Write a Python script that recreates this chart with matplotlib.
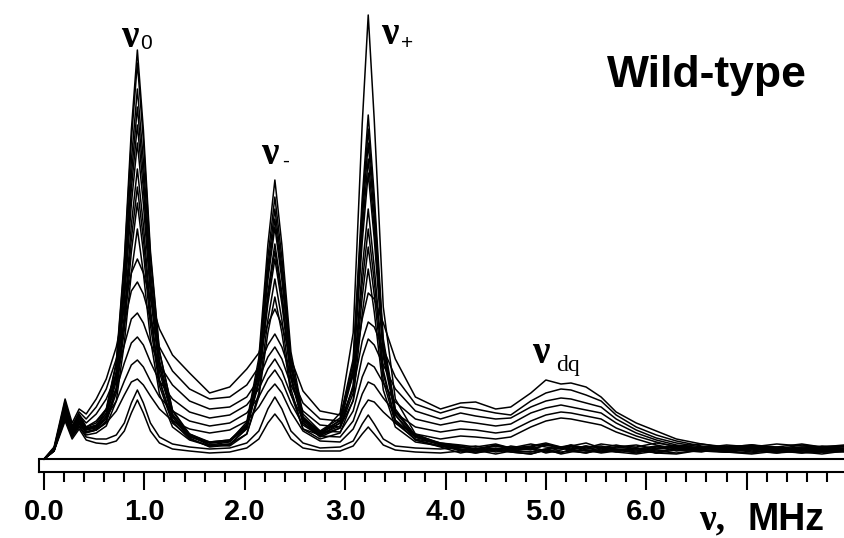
import numpy as np
import matplotlib
matplotlib.use("Agg")
import matplotlib.pyplot as plt

freq = [0.00, 0.10, 0.21, 0.28, 0.35, 0.42, 0.52, 0.62, 0.72, 0.80,
        0.87, 0.93, 0.99, 1.06, 1.15, 1.28, 1.45, 1.65, 1.85, 2.02,
        2.14, 2.23, 2.30, 2.37, 2.46, 2.58, 2.75, 2.95, 3.08, 3.17,
        3.23, 3.29, 3.38, 3.50, 3.70, 3.95,
        4.15, 4.30, 4.50, 4.65, 4.85, 5.00, 5.15, 5.25, 5.40, 5.55,
        5.70, 5.90, 6.10, 6.30, 6.55, 6.80, 7.05, 7.30, 7.55, 7.75, 7.97]

# narrow-line spectra (strong v0, v-, v+), low background
sharp_1 = [0, 10, 58, 30, 45, 32, 36, 50, 97, 200, 329, 409, 329, 208, 108, 48, 24, 14, 13, 25,
           66, 139, 180, 139, 70, 30, 24, 46, 126, 335, 444, 339, 152, 60, 25, 15,
           9, 6, 10, 7, 5, 9, 12, 8, 6, 10, 7, 11, 6, 9, 7, 12, 8, 6, 10, 7, 9]
sharp_2 = [0, 8, 50, 26, 40, 30, 33, 49, 95, 195, 319, 396, 319, 203, 107, 49, 25, 16, 18, 37,
           101, 214, 279, 214, 107, 45, 28, 41, 100, 261, 344, 264, 120, 50, 23, 15,
           12, 9, 8, 13, 10, 7, 11, 14, 9, 8, 12, 10, 13, 8, 11, 9, 14, 10, 8, 12, 10]
sharp_3 = [0, 10, 52, 29, 42, 30, 33, 46, 88, 182, 298, 370, 298, 190, 99, 45, 23, 14, 17, 34,
           95, 201, 262, 201, 100, 42, 25, 39, 96, 250, 330, 253, 115, 48, 22, 14,
           8, 11, 7, 9, 12, 8, 6, 10, 13, 7, 9, 6, 10, 12, 8, 7, 11, 9, 6, 10, 8]
sharp_4 = [0, 11, 46, 24, 36, 27, 30, 43, 83, 173, 283, 352, 283, 180, 93, 42, 21, 12, 14, 31,
           90, 192, 250, 192, 94, 39, 23, 36, 90, 239, 316, 242, 109, 44, 19, 12,
           6, 9, 5, 8, 7, 10, 5, 7, 9, 6, 8, 11, 6, 5, 9, 7, 6, 10, 7, 5, 8]
sharp_5 = [0, 9, 50, 31, 44, 31, 34, 45, 83, 167, 270, 334, 270, 173, 93, 44, 25, 17, 19, 35,
           90, 185, 240, 185, 94, 42, 27, 38, 90, 228, 300, 231, 107, 47, 24, 16,
           13, 10, 14, 11, 15, 12, 10, 13, 16, 11, 12, 14, 10, 13, 15, 11, 12, 10, 14, 12, 13]
sharp_6 = [0, 9, 54, 32, 43, 30, 32, 42, 78, 157, 255, 316, 255, 164, 87, 42, 23, 16, 18, 33,
           86, 179, 232, 179, 91, 40, 26, 36, 85, 217, 286, 220, 102, 44, 22, 15,
           11, 13, 9, 12, 10, 14, 11, 9, 12, 13, 10, 8, 12, 11, 9, 13, 10, 12, 9, 11, 12]
sharp_7 = [0, 10, 48, 27, 38, 27, 29, 38, 71, 144, 234, 290, 234, 150, 79, 37, 20, 13, 15, 30,
           79, 166, 215, 166, 83, 36, 22, 31, 74, 190, 250, 192, 89, 38, 19, 13,
           9, 7, 10, 8, 11, 6, 9, 12, 8, 7, 10, 9, 6, 11, 8, 10, 7, 9, 11, 8, 9]
sharp_8 = [0, 8, 45, 28, 37, 29, 31, 40, 70, 137, 220, 272, 220, 143, 78, 39, 23, 17, 19, 33,
           79, 161, 208, 161, 83, 38, 25, 33, 72, 176, 230, 178, 85, 39, 22, 16,
           14, 12, 15, 11, 13, 16, 12, 14, 11, 15, 13, 12, 16, 13, 11, 14, 12, 15, 13, 12, 14]
sharp_9 = [0, 8, 44, 25, 35, 27, 29, 37, 66, 129, 207, 256, 207, 134, 73, 36, 22, 16, 18, 31,
           76, 155, 200, 155, 80, 36, 24, 31, 66, 162, 212, 164, 78, 36, 20, 15,
           12, 10, 13, 11, 9, 14, 12, 10, 13, 11, 14, 10, 12, 13, 10, 12, 14, 11, 10, 13, 12]
sharp_10 = [0, 9, 42, 23, 33, 24, 26, 33, 58, 116, 186, 230, 186, 120, 65, 32, 19, 13, 15, 25,
            62, 126, 162, 126, 65, 30, 20, 26, 59, 145, 190, 147, 69, 32, 17, 13,
            10, 8, 11, 9, 7, 10, 12, 9, 8, 11, 9, 7, 10, 12, 8, 9, 11, 8, 10, 9, 10]

# broad-line spectra with raised background and the v_dq hump
broad_1 = [0, 12, 60, 36, 50, 45, 60, 80, 112, 150, 186, 200, 186, 160, 130, 104, 86, 66, 72, 90,
           106, 135, 150, 134, 100, 68, 48, 44, 84, 140, 166, 160, 136, 100, 62, 50,
           56, 57, 50, 52, 66, 79, 75, 76, 72, 62, 47, 36, 28, 20, 15, 12, 14, 12, 15, 12, 13]
broad_2 = [0, 11, 55, 33, 47, 40, 52, 70, 100, 136, 168, 177, 165, 140, 112, 88, 70, 60, 62, 74,
           92, 114, 125, 112, 84, 56, 40, 38, 70, 118, 137, 132, 110, 82, 55, 46,
           52, 50, 46, 44, 58, 66, 70, 69, 64, 58, 44, 32, 24, 18, 13, 11, 13, 10, 12, 11, 10]
broad_3 = [0, 10, 52, 30, 44, 36, 45, 60, 84, 114, 140, 146, 136, 116, 94, 74, 58, 50, 52, 62,
           80, 102, 112, 100, 74, 48, 34, 32, 58, 102, 120, 114, 94, 70, 48, 40,
           46, 43, 40, 41, 52, 58, 61, 60, 56, 52, 40, 29, 21, 16, 12, 10, 12, 9, 11, 10, 9]
broad_4 = [0, 9, 48, 28, 40, 32, 38, 50, 70, 96, 116, 122, 114, 97, 78, 60, 47, 41, 44, 54,
           70, 90, 100, 88, 64, 40, 28, 27, 48, 82, 96, 92, 76, 57, 40, 34,
           38, 36, 33, 35, 46, 51, 54, 52, 49, 46, 36, 26, 19, 14, 11, 9, 11, 8, 10, 9, 9]
broad_5 = [0, 10, 45, 26, 38, 29, 33, 42, 58, 78, 94, 99, 92, 78, 62, 48, 38, 33, 36, 46,
           62, 80, 89, 78, 56, 34, 23, 22, 38, 65, 77, 74, 61, 46, 32, 27,
           30, 29, 26, 28, 38, 44, 47, 46, 43, 40, 31, 23, 17, 12, 9, 8, 10, 7, 9, 8, 8]
broad_6 = [0, 8, 42, 24, 35, 26, 29, 36, 48, 64, 77, 80, 74, 63, 50, 38, 30, 26, 29, 38,
           52, 67, 75, 66, 47, 28, 18, 17, 30, 50, 59, 57, 47, 36, 25, 20,
           23, 22, 20, 22, 32, 38, 41, 40, 37, 34, 27, 20, 14, 10, 8, 7, 9, 6, 8, 7, 7]

# weak spectra
weak_1 = [0, 9, 40, 22, 32, 22, 20, 20, 24, 36, 56, 69, 56, 36, 22, 15, 12, 10, 11, 16,
          28, 50, 62, 50, 28, 16, 11, 12, 18, 35, 44, 35, 20, 13, 11, 10,
          12, 9, 13, 10, 12, 15, 11, 13, 10, 12, 9, 11, 8, 10, 12, 9, 11, 8, 10, 9, 9]
weak_2 = [0, 8, 38, 20, 30, 19, 16, 15, 18, 28, 46, 59, 46, 28, 16, 10, 8, 6, 7, 11,
          20, 36, 45, 36, 20, 11, 8, 8, 13, 25, 32, 25, 14, 9, 7, 6,
          8, 6, 9, 7, 5, 9, 7, 8, 6, 9, 7, 5, 8, 6, 9, 7, 5, 8, 6, 7, 8]

spectra = [sharp_1, sharp_2, sharp_3, sharp_4, sharp_5, sharp_6, sharp_7, sharp_8, sharp_9,
           sharp_10, broad_1, broad_2, broad_3, broad_4, broad_5, broad_6, weak_1, weak_2]

major_ticks = [0, 1, 2, 3, 4, 5, 6, 7]
major_labels = ["0.0", "1.0", "2.0", "3.0", "4.0", "5.0", "6.0", ""]

W, H = 844, 538
fig = plt.figure(figsize=(W / 100, H / 100), dpi=100)
ax = fig.add_axes([39 / W, (H - 472) / H, 1 - 39 / W, 472 / H])

for s in spectra:
    ax.plot(freq, s, color="black", lw=1.1)

ax.axhline(0, color="black", lw=1.5)
ax.set_xlim(-0.05, 7.97)
ax.set_ylim(-13, 459)

for side in ["top", "right"]:
    ax.spines[side].set_visible(False)
ax.spines["left"].set_bounds(-13, 0)
ax.spines["left"].set_linewidth(1.5)
ax.spines["bottom"].set_linewidth(1.5)
ax.set_yticks([])

ax.set_xticks(major_ticks)
ax.set_xticklabels(major_labels, fontsize=21, fontweight="bold", family="Liberation Sans")
ax.set_xticks(np.arange(0, 7.9, 0.2), minor=True)
ax.tick_params(axis="x", which="major", length=13, width=1.5, pad=6)
ax.tick_params(axis="x", which="minor", length=7, width=1.5)


def put(x, y, s, **kw):
    fig.text(x / W, 1 - y / H, s, **kw)


serif = dict(family=["Liberation Serif", "DejaVu Serif"], fontweight="bold", color="black")
put(121, 47, "ν", fontsize=28, va="baseline", **serif)
put(140, 49, "0", fontsize=15, va="baseline", family="Liberation Sans")
put(261, 164, "ν", fontsize=28, va="baseline", **serif)
put(282, 167, "-", fontsize=15, va="baseline", family="Liberation Sans")
put(381, 44, "ν", fontsize=28, va="baseline", **serif)
put(401, 49, "+", fontsize=15, va="baseline", family="Liberation Sans")
put(532, 363, "ν", fontsize=28, va="baseline", **serif)
put(556, 371, "dq", fontsize=17, va="baseline", family=["Liberation Serif", "DejaVu Serif"])

put(607, 87, "Wild-type", fontsize=32, fontweight="bold", va="baseline", family="Liberation Sans")
put(699, 529, "ν,", fontsize=27, va="baseline", **serif)
put(747, 530, "MHz", fontsize=27, fontweight="bold", va="baseline", family="Liberation Sans")

fig.savefig("out.png", dpi=100)
